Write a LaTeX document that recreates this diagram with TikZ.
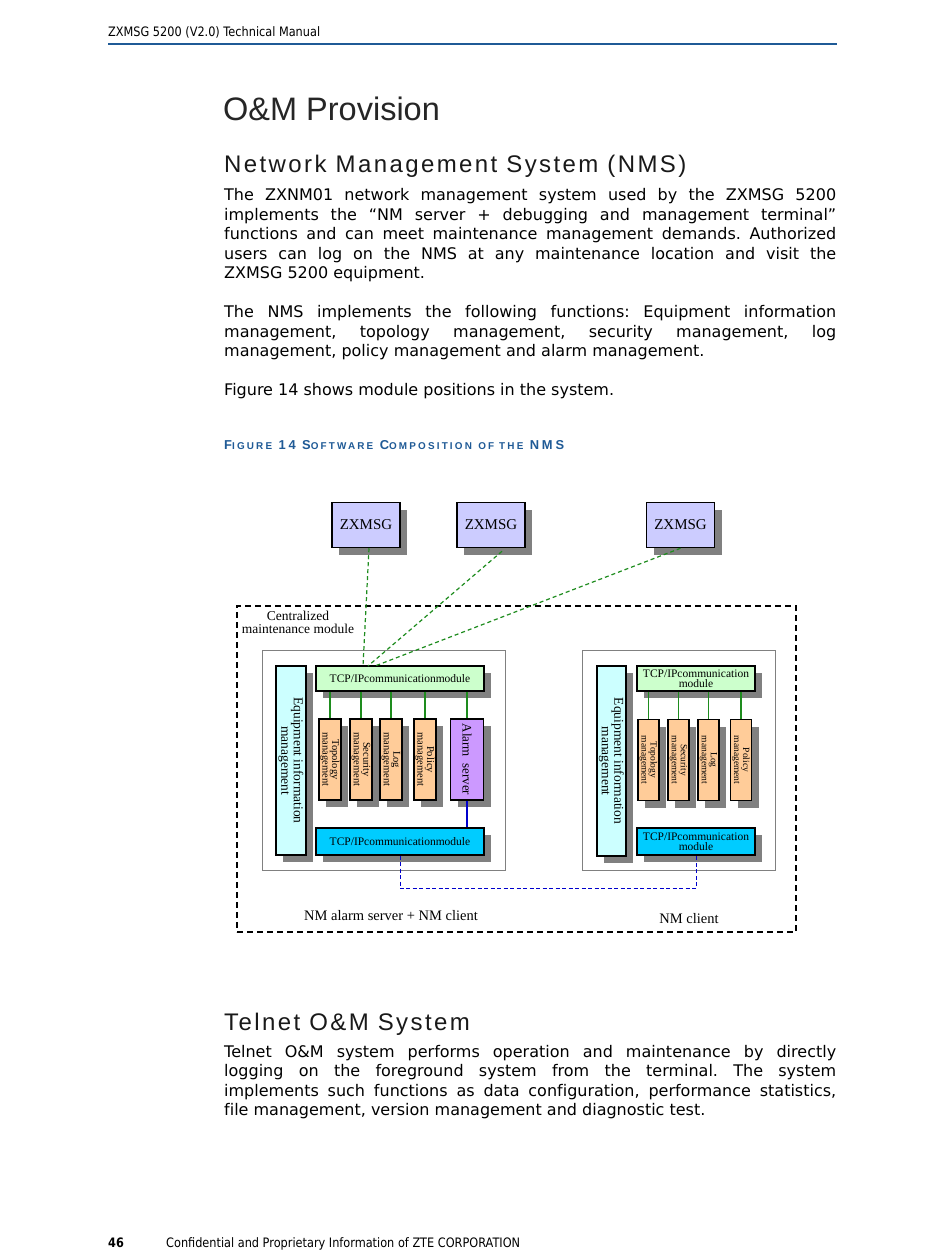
\documentclass[tikz,border=0pt]{standalone}
\usepackage{fontspec}
\setmainfont{DejaVu Sans}
\newfontfamily\bodyfont{DejaVu Sans}[Ligatures=NoCommon]
\newfontfamily\runfont{DejaVu Sans}[FakeStretch=0.87]
\newfontfamily\titlefont{Liberation Sans}
\newfontfamily\spacedfont{Liberation Sans}[LetterSpace=10]
\newfontfamily\capfont{Liberation Sans}[LetterSpace=22]
\newfontfamily\diafont{Liberation Serif}
\usetikzlibrary{shapes.geometric, arrows.meta, positioning, calc, shadows}

\definecolor{zteblue}{RGB}{31,90,150}
\definecolor{boxlav}{HTML}{CCCCFF}
\definecolor{boxgreen}{HTML}{CCFFCC}
\definecolor{boxcyan}{HTML}{CCFFFF}
\definecolor{boxblue}{HTML}{00CCFF}
\definecolor{boxorange}{HTML}{FFCC99}
\definecolor{boxpurple}{HTML}{CC99FF}
\definecolor{linkgreen}{HTML}{1E8C1E}
\definecolor{linkblue}{HTML}{0000CC}

\newcommand{\bodysize}{\bodyfont\fontsize{16}{19.5}\selectfont\frenchspacing}
\newcommand{\modfont}{\diafont\fontsize{10.5}{9.5}\selectfont}
\newcommand{\tcpfont}{\diafont\fontsize{11.5}{10}\selectfont}
\newcommand{\eqfont}{\diafont\fontsize{13.5}{12.5}\selectfont}
\newcommand{\capsm}[1]{{\fontsize{9.9}{12}\selectfont #1}}

\tikzset{
  para/.style={anchor=north west, inner sep=0pt, text width=612pt, align=justify, font=\bodysize},
  plain/.style={inner sep=0pt},
  shadowed/.style={draw=black, line width=1.2pt, inner sep=0pt,
    drop shadow={shadow xshift=7pt, shadow yshift=-7pt, fill=black!50, opacity=1}},
  msgbox/.style={shadowed, line width=1.5pt, fill=boxlav, minimum width=68pt, minimum height=45pt, font=\diafont\fontsize{15}{18}\selectfont},
  modbox/.style={shadowed, fill=boxorange, minimum height=81pt},
  vlabel/.style={inner sep=0pt, rotate=-90, align=center},
  hostbox/.style={draw=black!50, line width=0.8pt, minimum height=220pt},
  greenlink/.style={linkgreen, line width=1.2pt},
  netlink/.style={linkgreen, dashed, line width=1.2pt, dash pattern=on 4pt off 3pt},
}

\begin{document}
\begin{tikzpicture}[x=1pt, y=-1pt]
\useasboundingbox (0,0) rectangle (950,1260);
\fill[white] (0,0) rectangle (950,1260);

% running head
\node[plain, anchor=base west, font=\runfont\fontsize{13}{15}\selectfont] (runhead) at (108,37) {ZXMSG 5200 (V2.0) Technical Manual};
\draw[zteblue, line width=2pt] (108,44.5) -- (837,44.5);

% headings and text
\node[plain, anchor=base west, font=\titlefont\fontsize{32.5}{36}\selectfont, text=black!85] (title) at (223,121) {O\&M Provision};
\node[plain, anchor=base west, font=\spacedfont\fontsize{24}{28}\selectfont, text=black!90] (nmshead) at (224,173) {Network Management System (NMS)};

\node[para] (p1) at (224,188.5) {The ZXNM01 network management system used by the ZXMSG 5200\linebreak
implements the “NM server + debugging and management terminal”\linebreak
functions and can meet maintenance management demands. Authorized\linebreak
users can log on the NMS at any maintenance location and visit the\linebreak
ZXMSG 5200 equipment.};

\node[para] (p2) at (224,305.5) {The NMS implements the following functions: Equipment information\linebreak
management, topology management, security management, log\linebreak
management, policy management and alarm management.};

\node[plain, anchor=base west, font=\bodysize] (p3) at (224,395) {Figure 14 shows module positions in the system.};

\node[plain, anchor=base west, font=\capfont\bfseries\fontsize{12.9}{14}\selectfont, text=zteblue] (figcap) at (224,449)
  {F\capsm{IGURE} 14 S\capsm{OFTWARE} C\capsm{OMPOSITION} \capsm{OF THE} NMS};

% ---- figure 14 ----
\node[hostbox, minimum width=243pt] (hostL) at (383.5,760) {};
\node[hostbox, minimum width=193pt] (hostR) at (678.5,760) {};
\node[draw, dashed, line width=1.8pt, dash pattern=on 6pt off 4pt, minimum width=559pt, minimum height=326pt] (cms) at (516.5,769) {};
\node[plain, align=center, font=\diafont\fontsize{13.5}{13}\selectfont] (cmslabel) at (298,622.5) {Centralized\\maintenance module};

% equipment
\node[msgbox] (z1) at (366,525) {ZXMSG};
\node[msgbox] (z2) at (491,525) {ZXMSG};
\node[msgbox] (z3) at (680.5,525) {ZXMSG};

% NM alarm server + NM client
\node[shadowed, fill=boxcyan, minimum width=30pt, minimum height=189pt] (eqL) at (291,760.5) {};
\node[vlabel, font=\eqfont] at (eqL) {Equipment information\\management};
\node[shadowed, fill=boxgreen, minimum width=168pt, minimum height=25pt, font=\tcpfont] (tcpL1) at (400,678.5) {TCP/IPcommunicationmodule};
\node[modbox, minimum width=22pt] (topoL) at (330,759.5) {};
\node[modbox, minimum width=22pt] (secL) at (361,759.5) {};
\node[modbox, minimum width=22pt] (logL) at (391,759.5) {};
\node[modbox, minimum width=22pt] (polL) at (425,759.5) {};
\node[shadowed, fill=boxpurple, minimum width=33pt, minimum height=81pt] (alarmL) at (467,759.5) {};
\node[vlabel, font=\modfont] at (topoL) {Topology\\management};
\node[vlabel, font=\modfont] at (secL) {Security\\management};
\node[vlabel, font=\modfont] at (logL) {Log\\management};
\node[vlabel, font=\modfont] at (polL) {Policy\\management};
\node[vlabel, font=\diafont\fontsize{13}{14}\selectfont] at (alarmL) {Alarm\ \ server};
\node[shadowed, fill=boxblue, minimum width=168pt, minimum height=27pt, font=\tcpfont] (tcpL2) at (400,841.5) {TCP/IPcommunicationmodule};

% NM client
\node[shadowed, fill=boxcyan, minimum width=29pt, minimum height=190pt] (eqR) at (611.5,761) {};
\node[vlabel, font=\eqfont] at (eqR) {Equipment information\\management};
\node[shadowed, fill=boxgreen, minimum width=118pt, minimum height=25pt, align=center, font=\tcpfont] (tcpR1) at (696,678.5) {TCP/IPcommunication\\module};
\node[modbox, minimum width=21pt] (topoR) at (648.5,760) {};
\node[modbox, minimum width=21pt] (secR) at (678.5,760) {};
\node[modbox, minimum width=21pt] (logR) at (708.5,760) {};
\node[modbox, minimum width=21pt] (polR) at (741,760) {};
\node[vlabel, font=\modfont\fontsize{9.5}{9}\selectfont] at (topoR) {Topology\\management};
\node[vlabel, font=\modfont\fontsize{9.5}{9}\selectfont] at (secR) {Security\\management};
\node[vlabel, font=\modfont\fontsize{9.5}{9}\selectfont] at (logR) {Log\\management};
\node[vlabel, font=\modfont\fontsize{9.5}{9}\selectfont] at (polR) {Policy\\management};
\node[shadowed, fill=boxblue, minimum width=118pt, minimum height=27pt, align=center, font=\tcpfont] (tcpR2) at (696,841.5) {TCP/IPcommunication\\module};

\node[plain, font=\diafont\fontsize{14.5}{16}\selectfont] (lblL) at (391,916) {NM alarm server + NM client};
\node[plain, font=\diafont\fontsize{14.5}{16}\selectfont] (lblR) at (689,919) {NM client};

% links
\foreach \m in {topoL,secL,logL,polL,alarmL}
  \draw[greenlink] (\m.north |- tcpL1.south) -- (\m.north);
\foreach \m in {topoR,secR,logR,polR}
  \draw[greenlink] (\m.north |- tcpR1.south) -- (\m.north);
\draw[linkblue, line width=1.2pt] (alarmL.south) -- (alarmL.south |- tcpL2.north);
\draw[linkblue, dashed, line width=1pt, dash pattern=on 4pt off 2.5pt] (tcpL2.south) -- ++(0,33) -| (tcpR2.south);

\coordinate (in1) at (363,666);
\coordinate (in2) at (368,666);
\coordinate (in3) at (375,666);
\draw[netlink] ($(z1.south)+(3,0)$) -- (in1);
\draw[netlink] ($(z2.south)+(11,3)$) -- (in2);
\draw[netlink] (z3.south) -- (in3);

% telnet
\node[plain, anchor=base west, font=\spacedfont\fontsize{24}{28}\selectfont, text=black!90] (telhead) at (224,1030) {Telnet O\&M System};
\node[para] (p4) at (224,1045) {Telnet O\&M system performs operation and maintenance by directly\linebreak
logging on the foreground system from the terminal. The system\linebreak
implements such functions as data configuration, performance statistics,\linebreak
file management, version management and diagnostic test.};

% footer
\node[plain, anchor=base west, font=\runfont\bfseries\fontsize{13}{15}\selectfont] (pageno) at (108,1247) {46};
\node[plain, anchor=base west, font=\runfont\fontsize{13}{15}\selectfont] (conf) at (166,1247) {Confidential and Proprietary Information of ZTE CORPORATION};
\end{tikzpicture}
\end{document}
